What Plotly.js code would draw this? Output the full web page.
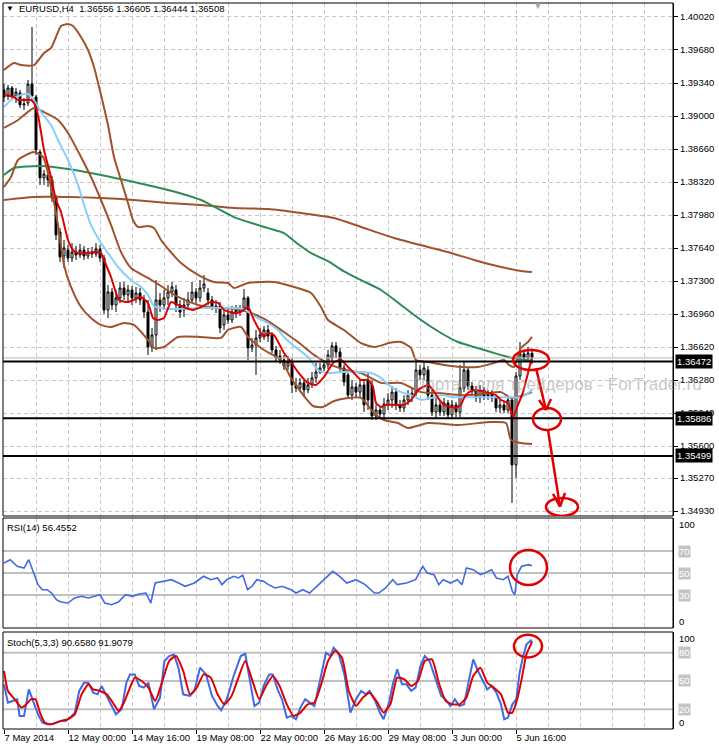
<!DOCTYPE html>
<html>
<head>
<meta charset="utf-8">
<script src="https://cdn.plot.ly/plotly-3.0.1.min.js"></script>
<style>html,body{margin:0;padding:0;background:#fff;}#chart{width:719px;height:750px;}</style>
</head>
<body>
<div id="chart"></div>
<script>
// ---------- DATA ----------
const symbolTitle = "EURUSD,H4  1.36556 1.36605 1.36444 1.36508";
const rsiTitle = "RSI(14) 56.4552";
const stochTitle = "Stoch(5,3,3) 90.6580 91.9079";
const watermark = "Портал для трейдеров - ForTrader.ru";

const timeTickBars = [0,16,32,48,64,80,96,112,128];
const timeTickLabels = ["7 May 2014","12 May 00:00","14 May 16:00","19 May 08:00","22 May 00:00","26 May 16:00","29 May 08:00","3 Jun 00:00","5 Jun 16:00"];
const priceTicks = ["1.40020","1.39680","1.39340","1.39000","1.38660","1.38320","1.37980","1.37640","1.37300","1.36960","1.36620","1.36280","1.35940","1.35600","1.35270","1.34930"];
const levelPrices = [1.36472, 1.35886, 1.35499];
const bidPrice = 1.36508;

const open = [1.39268,1.39217,1.39289,1.39206,1.39237,1.39114,1.39134,1.39330,1.39196,1.38629,
1.38362,1.38393,1.38341,1.38156,1.37805,1.37558,1.37620,1.37538,1.37599,1.37569,
1.37620,1.37558,1.37599,1.37579,1.37630,1.37538,1.37002,1.37187,1.37054,1.37126,
1.37228,1.37157,1.37208,1.37126,1.37177,1.37105,1.36981,1.36621,1.36745,1.37105,
1.37054,1.37126,1.37187,1.37208,1.37054,1.37002,1.37054,1.37105,1.37187,1.37126,
1.37228,1.37177,1.37105,1.37043,1.37043,1.36848,1.36951,1.36899,1.36981,1.37002,
1.37023,1.37126,1.36611,1.36642,1.36714,1.36745,1.36796,1.36745,1.36590,1.36528,
1.36487,1.36425,1.36466,1.36230,1.36198,1.36251,1.36178,1.36230,1.36302,1.36363,
1.36405,1.36436,1.36508,1.36632,1.36569,1.36405,1.36333,1.36125,1.36209,1.36156,
1.36230,1.36281,1.36230,1.35910,1.35972,1.35931,1.36034,1.36075,1.36156,1.36024,
1.35993,1.36075,1.36125,1.36145,1.36384,1.36333,1.36384,1.36125,1.35951,1.36024,
1.35951,1.36044,1.35921,1.36024,1.35951,1.36198,1.36384,1.36219,1.36178,1.36096,
1.36178,1.36114,1.36135,1.36096,1.35993,1.36024,1.35972,1.36075,1.35406,1.36322,
1.36549,1.36508,1.36556];
const close = [1.39196,1.39289,1.39206,1.39247,1.39114,1.39124,1.39330,1.39206,1.38650,1.38362,
1.38403,1.38341,1.38156,1.37775,1.37548,1.37641,1.37538,1.37599,1.37569,1.37620,
1.37558,1.37599,1.37579,1.37630,1.37538,1.37002,1.37187,1.37054,1.37126,1.37228,
1.37157,1.37208,1.37126,1.37177,1.37105,1.36981,1.36621,1.36745,1.37105,1.37054,
1.37126,1.37187,1.37239,1.37054,1.36981,1.37054,1.37105,1.37187,1.37126,1.37228,
1.37270,1.37105,1.37043,1.37023,1.36817,1.36951,1.36899,1.36981,1.37002,1.36981,
1.37126,1.36611,1.36642,1.36714,1.36745,1.36796,1.36734,1.36590,1.36508,1.36487,
1.36425,1.36466,1.36230,1.36198,1.36251,1.36178,1.36230,1.36302,1.36363,1.36405,
1.36436,1.36539,1.36632,1.36569,1.36405,1.36261,1.36125,1.36209,1.36156,1.36230,
1.36024,1.36075,1.35910,1.35972,1.35931,1.36034,1.36075,1.36156,1.36024,1.35993,
1.36075,1.36125,1.36145,1.36384,1.36333,1.36405,1.36125,1.35951,1.36024,1.35951,
1.36044,1.35921,1.36024,1.35951,1.36198,1.36384,1.36219,1.36178,1.36096,1.36178,
1.36114,1.36135,1.36096,1.35993,1.36024,1.35972,1.36075,1.35406,1.36322,1.36549,
1.36508,1.36559,1.36508];
const high = [1.39330,1.39320,1.39309,1.39289,1.39268,1.39186,1.39371,1.39917,1.39217,1.38650,
1.38444,1.38423,1.38382,1.38186,1.37847,1.37723,1.37672,1.37692,1.37661,1.37682,
1.37661,1.37641,1.37651,1.37692,1.37672,1.37569,1.37260,1.37228,1.37208,1.37290,
1.37290,1.37260,1.37249,1.37239,1.37228,1.37157,1.37105,1.36817,1.37311,1.37177,
1.37208,1.37260,1.37290,1.37260,1.37105,1.37126,1.37187,1.37290,1.37228,1.37311,
1.37363,1.37228,1.37146,1.37105,1.37084,1.37002,1.37023,1.37043,1.37054,1.37054,
1.37218,1.37146,1.36714,1.36796,1.36817,1.36837,1.36848,1.36775,1.36632,1.36590,
1.36539,1.36528,1.36508,1.36302,1.36302,1.36281,1.36302,1.36363,1.36456,1.36456,
1.36487,1.36590,1.36672,1.36672,1.36611,1.36436,1.36363,1.36281,1.36251,1.36281,
1.36281,1.36363,1.36281,1.36024,1.36013,1.36096,1.36145,1.36219,1.36198,1.36075,
1.36125,1.36178,1.36198,1.36487,1.36436,1.36466,1.36425,1.36178,1.36096,1.36075,
1.36096,1.36075,1.36075,1.36054,1.36436,1.36466,1.36415,1.36261,1.36219,1.36230,
1.36209,1.36178,1.36178,1.36125,1.36075,1.36054,1.36114,1.36104,1.36363,1.36672,
1.36590,1.36621,1.36605];
const low = [1.39144,1.39165,1.39165,1.39134,1.39083,1.39062,1.39103,1.39165,1.38599,1.38290,
1.38290,1.38269,1.38114,1.37723,1.37496,1.37435,1.37496,1.37496,1.37517,1.37538,
1.37517,1.37527,1.37538,1.37548,1.37496,1.36961,1.36920,1.37002,1.36981,1.37074,
1.37105,1.37084,1.37054,1.37074,1.37054,1.36920,1.36539,1.36569,1.36590,1.36981,
1.37002,1.37054,1.37136,1.36981,1.36920,1.36930,1.37002,1.37074,1.37054,1.37084,
1.37187,1.37054,1.37002,1.36971,1.36765,1.36796,1.36858,1.36868,1.36920,1.36940,
1.36981,1.36487,1.36569,1.36333,1.36672,1.36693,1.36672,1.36559,1.36466,1.36446,
1.36384,1.36384,1.36145,1.36156,1.36156,1.36104,1.36145,1.36198,1.36251,1.36343,
1.36374,1.36395,1.36466,1.36508,1.36363,1.36219,1.36096,1.36075,1.36104,1.36096,
1.35951,1.35972,1.35869,1.35869,1.35879,1.35890,1.35972,1.35993,1.35972,1.35951,
1.35951,1.36024,1.36054,1.36114,1.36281,1.36281,1.36075,1.35910,1.35890,1.35910,
1.35910,1.35890,1.35890,1.35900,1.35900,1.36156,1.36178,1.36135,1.36054,1.36044,
1.36075,1.36075,1.36054,1.35951,1.35941,1.35941,1.35941,1.35014,1.35272,1.36281,
1.36466,1.36487,1.36444];

// moving averages / bands (bar position, price)
const fastMaX = [0,2.5,3.5,5,6.75,7.5,8.5,10,11.75,13,14.25,16,17.25,18.5,21,22.5,24.25,25,26.75,28.75,31,33.5,34.25,36,37.25,38.5,40,41.75,43.5,45.5,47.25,49.25,51.75,53.5,55,57.5,59.25,61,62.5,65,66,67.5,70,71.75,73.5,76,78,80,82.5,84.25,86,87.5,89.25,91,92.25,93,94.25,95.5,98.5,100,101.75,103.5,104.75,106,107.25,108.5,110,111.75,113,114.25,115,116.25,118,120.5,123,124.25,126,127.25,128.5,129.75,131,132];
const fastMaY = [1.39217,1.39196,1.39165,1.39165,1.39165,1.39134,1.39011,1.38650,1.38372,1.38135,1.38011,1.37723,1.37620,1.37589,1.37589,1.37599,1.37589,1.37517,1.37342,1.37105,1.37084,1.37126,1.37136,1.37074,1.36920,1.36899,1.36920,1.37084,1.37054,1.37023,1.37002,1.37033,1.37084,1.37074,1.37002,1.36971,1.36981,1.37033,1.36899,1.36724,1.36765,1.36745,1.36559,1.36466,1.36363,1.36251,1.36230,1.36312,1.36466,1.36487,1.36415,1.36353,1.36281,1.36281,1.36209,1.36044,1.36003,1.36024,1.36024,1.36024,1.36075,1.36178,1.36209,1.36230,1.36178,1.36096,1.36024,1.36003,1.35993,1.36024,1.36096,1.36156,1.36178,1.36156,1.36125,1.36075,1.36044,1.35900,1.36024,1.36156,1.36353,1.36518];
const midMaX = [0,1.75,4.25,6,7.5,9.25,11.75,13.5,16,18.5,20,21.75,24.25,26,28.5,31.75,34.25,36,37.5,41,49.25,57.5,60,62.5,66,68.5,70,72.5,76,78.5,81,84.25,89.25,91.75,94.25,96.75,99.25,101.75,104.25,106.75,109.25,112.5,119.25,126,129.25,131,132];
const midMaY = [1.39093,1.39165,1.39217,1.39227,1.39165,1.39041,1.38908,1.38753,1.38547,1.38290,1.38084,1.37878,1.37692,1.37589,1.37445,1.37311,1.37239,1.37157,1.37043,1.37012,1.37023,1.37023,1.37012,1.36940,1.36868,1.36796,1.36724,1.36632,1.36518,1.36384,1.36353,1.36363,1.36363,1.36353,1.36302,1.36209,1.36156,1.36125,1.36075,1.36096,1.36125,1.36104,1.36104,1.36104,1.36104,1.36145,1.36178];
const bandUpX = [0,2.5,4.25,7.5,10,11.75,13,14.25,16,17.25,19.25,21,22.5,24.25,26,27.5,29.25,31,32.25,33.5,36,37.5,39.25,41.25,44.25,48.5,52.5,56,57.5,61,67.5,72.5,76.75,79.25,81,85,89.25,92.5,96.75,99.25,101.75,103,106,110,114.25,118.5,122.5,125,126.25,127.5,129.25,131,132];
const bandUpY = [1.39474,1.39546,1.39525,1.39525,1.39649,1.39701,1.39814,1.39927,1.39948,1.39927,1.39814,1.39680,1.39505,1.39217,1.38907,1.38578,1.38341,1.38104,1.37929,1.37857,1.37867,1.37847,1.37723,1.37620,1.37486,1.37363,1.37290,1.37280,1.37228,1.37280,1.37290,1.37239,1.37177,1.37033,1.36899,1.36796,1.36660,1.36621,1.36666,1.36672,1.36611,1.36487,1.36466,1.36436,1.36415,1.36415,1.36456,1.36487,1.36436,1.36415,1.36611,1.36672,1.36724];
const bandMidX = [0,3.5,7.5,10,13.5,16,19.25,21.75,24.25,26.75,29.25,31.75,36,40,43.5,48.5,53.5,58,61.75,65.5,69.25,73.5,77.5,81.75,85.5,89.25,94.25,99.25,104.25,109.25,114.25,119.25,124.25,126.75,129.25,132];
const bandMidY = [1.38877,1.38959,1.39083,1.39041,1.38959,1.38825,1.38578,1.38372,1.38135,1.37878,1.37599,1.37435,1.37332,1.37228,1.37136,1.37054,1.37023,1.37012,1.36971,1.36899,1.36796,1.36672,1.36539,1.36436,1.36384,1.36353,1.36251,1.36251,1.36156,1.36145,1.36125,1.36135,1.36156,1.36096,1.36116,1.36156];
const bandLowX = [0,1.75,3.5,7.5,9.75,11.75,13.5,15,16.75,19.25,21.75,24.25,26.75,30,32.5,36,37.5,40,43.5,49.25,54.25,56,59.25,61,65,69.25,71.75,74.25,77.25,79.75,82.5,86,89.25,92.5,95,98.5,101,106,113.5,121.75,125.5,126.75,129.25,132];
const bandLowY = [1.38269,1.38372,1.38547,1.38629,1.38578,1.38269,1.37878,1.37466,1.37239,1.37033,1.36920,1.36848,1.36827,1.36868,1.36848,1.36693,1.36611,1.36621,1.36724,1.36724,1.36714,1.36796,1.36827,1.36724,1.36590,1.36487,1.36302,1.36156,1.36013,1.36003,1.36065,1.36096,1.36096,1.35941,1.35869,1.35838,1.35787,1.35838,1.35818,1.35848,1.35838,1.35663,1.35632,1.35622];
const greenMaX = [0,2.5,9.25,16,24.25,32.5,41,49.25,57.5,66,70,73.5,76.75,81,85,89.25,94.25,99.25,104.25,109.25,113.5,117.5,121.75,126,132];
const greenMaY = [1.38393,1.38465,1.38485,1.38454,1.38393,1.38320,1.38238,1.38135,1.37959,1.37845,1.37794,1.37681,1.37588,1.37505,1.37400,1.37310,1.37208,1.37054,1.36899,1.36765,1.36672,1.36621,1.36569,1.36518,1.36476];
const slowMaX = [0,7.5,16,24.25,32.5,41,49.25,57.5,66,74.25,82.5,89.25,97.5,106,111.75,117.5,124.25,129.25,132];
const slowMaY = [1.38135,1.38166,1.38166,1.38156,1.38135,1.38104,1.38084,1.38053,1.38042,1.38001,1.37950,1.37857,1.37744,1.37651,1.37589,1.37517,1.37445,1.37404,1.37394];

const rsiX = [0,1.55,3.3,5.0,6.2,7.3,8.5,9.6,10.8,11.9,13.1,14.2,15.95,17.7,19.4,21.1,22.3,24.0,25.2,26.9,28.6,30.4,32.1,33.8,35.5,36.7,37.8,39.6,41.9,43.6,45.3,47.6,49.9,51.7,53.4,54.5,55.7,57.4,58.6,59.7,60.9,62.0,63.2,64.9,66.1,67.8,69.5,71.8,73.0,74.7,76.4,78.2,79.9,82.2,83.9,85.7,88.0,90.3,92.6,93.7,95.4,97.2,98.3,100.6,102.9,104.7,105.8,107.5,108.7,109.8,111.6,113.3,114.5,115.6,117.3,119.1,120.2,121.9,123.1,124.8,126.0,127.1,127.7,128.3,129.4,131.2,132];
const rsiY = [59.1,62.1,56.1,54.5,62.1,51.5,39.4,34.8,34.8,31.8,25.8,23.6,22.7,27.3,28.8,27.3,28.8,30.3,22.7,21.2,23.6,30.3,28.8,30.9,31.8,22.7,40.9,42.4,43.9,40.9,37.9,40.9,47,43.9,45.5,39.4,43.9,47,45.5,47.9,34.8,37.9,43.9,42.4,39.4,36.4,37.9,34.8,31.8,34.8,31.8,37.9,43.9,51.5,47,40.9,43.9,39.4,31.8,31.8,36.4,43.9,39.4,40.9,43.9,56.1,50,48.5,39.4,43.9,40.9,43.9,39.4,54.5,53,48.5,50,53,45.5,43.9,47,33.3,30.3,48.5,56.1,57.6,56.5];
const rsiLevels = [70,50,30];

const stochKX = [0,0.98,2.1,3.3,3.9,5.0,6.2,7.3,8.5,9.6,10.8,11.9,13.1,14.2,15.4,16.5,17.7,18.8,20.0,21.1,22.3,23.4,24.4,25.7,26.9,28.0,29.4,30.6,31.5,32.7,33.8,34.96,36.1,37.5,39.0,40.1,41.3,42.5,43.6,44.8,46.5,47.6,49.0,50.5,52.0,53.4,54.3,55.7,57.4,59.2,60.3,61.5,62.6,63.8,64.9,66.3,67.2,68.4,69.5,70.7,71.8,73.0,74.1,75.3,76.4,77.6,78.7,80.5,81.6,82.4,83.6,85.1,86.6,88.0,89.3,90.5,91.4,92.8,93.95,94.9,96.25,97.2,98.3,99.5,100.6,101.8,102.9,104.1,105.2,106.4,107.5,109.3,110.4,111.6,112.7,113.9,115.0,116.2,117.3,118.5,119.6,120.8,121.9,123.1,124.25,125.05,126.0,127.1,128.05,128.9,129.7,130.6,131.7,132];
const stochKY = [46.4,27,28.8,30.5,12.9,12.9,41.1,28.8,14.6,5.8,4,4,5.8,7.6,7.6,11.1,16.4,39.4,48.2,48.2,37.6,35.8,44.7,34.1,23.5,14.6,19.9,48.2,57,57,44.7,42.9,48.2,19.9,32.3,71.2,76.5,78.2,64.1,35.8,34.1,39.4,64.1,57,34.1,23.5,18.9,30.5,55.3,76.5,78.9,51.7,23.5,27,44.7,57,57,41.1,30.5,11.1,12.9,9.3,21.7,30.5,27,23.5,44.7,80,76.5,85.3,80,57,16.4,30.5,39.4,35.8,39.4,28.8,16.4,9.3,27,46.4,62.3,46.4,46.4,39.4,42.9,65.9,76.5,71.2,57,34.1,30.5,23.5,30.5,23.5,25.2,51.7,72.9,60.6,51.7,41.1,44.7,37.6,25.2,9.3,11.1,25.2,30.5,58.8,74.7,88.8,93.1,90.7];
const stochDX = [0,0.98,2.7,4.4,5.6,6.7,7.9,9.0,10.2,11.35,12.5,14.2,15.95,17.7,19.4,21.1,22.3,24.0,25.7,27.5,28.6,29.8,31.5,32.7,34.4,36.1,37.8,39.6,41.3,43.0,44.8,46.5,48.2,49.9,51.7,53.4,55.1,56.9,58.6,60.3,62.0,63.8,65.5,67.2,68.9,70.7,72.4,74.1,75.9,77.6,79.3,81.0,82.8,84.5,86.2,88.0,89.7,91.4,93.1,94.9,96.6,98.3,100.1,101.8,103.5,105.2,107.0,108.7,110.4,112.1,113.9,115.6,117.3,119.1,120.8,122.5,124.25,126.0,127.1,128.3,129.4,130.6,131.7,132];
const stochDY = [60.6,39.4,30.5,21.7,25.2,30.5,30.5,16.4,5.8,4,4.7,7.6,9.3,14.6,35.8,46.4,41.1,39.4,35.8,25.2,18.2,25.2,42.9,53.5,50,42.9,28.8,50,71.2,76.5,60.6,35.8,42.9,57,53.5,35.8,25.2,34.1,53.5,71.2,51.7,30.5,44.7,55.3,44.7,25.2,12.9,16.4,25.2,27,46.4,71.2,81.8,74.7,39.4,23.5,32.3,37.6,28.8,16.4,25.2,53.5,51.7,44.7,50,71.2,72.9,48.2,28.8,25.2,25.2,32.3,55.3,64.1,48.2,42.9,35.8,16.4,16.4,30.5,51.7,78.2,88.8,91.9];
const stochLevels = [80,50,20];

// hand-drawn marks (bar position, value)
const priceEllipses = [[127.25,136.25,1.36384,1.36590],[132.25,139.25,1.35766,1.35993],[135.5,143.5,1.34880,1.35066]];
const rsiEllipse = [126.5,135.75,39,71];
const stochEllipse = [127.5,134.5,75,99];
const arrowSegments = [
  [133,1.36405,135.5,1.35972],[133.75,1.36075,135.5,1.35972],[136.75,1.36085,135.5,1.35972],
  [136,1.35766,139,1.34977],[137.25,1.35107,139,1.34977],[140.25,1.35117,139,1.34977]
];

// ---------- LAYOUT HELPERS ----------
const W = 719, H = 750, ML = 3, MR = 46, MT = 3, MB = 20;
const PW = W - ML - MR, PH = H - MT - MB;
const xp = px => (px - ML) / PW;
const yp = py => (H - MB - py) / PH;
const domPrice = [yp(516), yp(MT)];
const domRsi = [yp(628), yp(518)];
const domSto = [yp(729), yp(632)];

const bars = open.map((_, i) => i);
const FONT = "Tahoma, 'Liberation Sans', Arial, sans-serif";
const brown = '#a0522d';

const traces = [
  {type:'candlestick', x:bars, open, high, low, close, xaxis:'x', yaxis:'y',
   increasing:{line:{color:'#000',width:1}, fillcolor:'#ffffff'},
   decreasing:{line:{color:'#000',width:1}, fillcolor:'#000000'},
   whiskerwidth:0, hoverinfo:'skip'},
  {type:'scatter', mode:'lines', x:slowMaX, y:slowMaY, line:{color:brown,width:2,shape:'spline',smoothing:0.6}, yaxis:'y'},
  {type:'scatter', mode:'lines', x:greenMaX, y:greenMaY, line:{color:'#2e8b57',width:2,shape:'spline',smoothing:0.6}, yaxis:'y'},
  {type:'scatter', mode:'lines', x:bandUpX, y:bandUpY, line:{color:brown,width:2,shape:'spline',smoothing:0.6}, yaxis:'y'},
  {type:'scatter', mode:'lines', x:bandMidX, y:bandMidY, line:{color:brown,width:2,shape:'spline',smoothing:0.6}, yaxis:'y'},
  {type:'scatter', mode:'lines', x:bandLowX, y:bandLowY, line:{color:brown,width:2,shape:'spline',smoothing:0.6}, yaxis:'y'},
  {type:'scatter', mode:'lines', x:midMaX, y:midMaY, line:{color:'#87cefa',width:2,shape:'spline',smoothing:0.6}, yaxis:'y'},
  {type:'scatter', mode:'lines', x:fastMaX, y:fastMaY, line:{color:'#e00000',width:2,shape:'spline',smoothing:0.5}, yaxis:'y'},
  {type:'scatter', mode:'lines', x:rsiX, y:rsiY, line:{color:'#4169e1',width:1.6}, yaxis:'y2'},
  {type:'scatter', mode:'lines', x:stochKX, y:stochKY, line:{color:'#4169e1',width:2}, yaxis:'y3'},
  {type:'scatter', mode:'lines', x:stochDX, y:stochDY, line:{color:'#e00000',width:2,shape:'spline',smoothing:0.5}, yaxis:'y3'}
];

const shapes = [];
rsiLevels.forEach(v => shapes.push({type:'line', xref:'paper', x0:0, x1:1, yref:'y2', y0:v, y1:v, line:{color:'#c0c0c0',width:2}, layer:'below'}));
stochLevels.forEach(v => shapes.push({type:'line', xref:'paper', x0:0, x1:1, yref:'y3', y0:v, y1:v, line:{color:'#c0c0c0',width:2}, layer:'below'}));
shapes.push({type:'line', xref:'paper', x0:0, x1:1, yref:'y', y0:bidPrice, y1:bidPrice, line:{color:'#b8b8b8',width:1}});
levelPrices.forEach(v => shapes.push({type:'line', xref:'paper', x0:0, x1:1, yref:'y', y0:v, y1:v, line:{color:'#000',width:2}}));
[domPrice, domRsi, domSto].forEach(d => shapes.push({type:'rect', xref:'paper', yref:'paper', x0:0, x1:1, y0:d[0], y1:d[1], line:{color:'#000',width:1}}));
priceEllipses.forEach(e => shapes.push({type:'circle', xref:'x', yref:'y', x0:e[0], x1:e[1], y0:e[2], y1:e[3], line:{color:'#e00000',width:2.5}}));
shapes.push({type:'circle', xref:'x', yref:'y2', x0:rsiEllipse[0], x1:rsiEllipse[1], y0:rsiEllipse[2], y1:rsiEllipse[3], line:{color:'#e00000',width:2.5}});
shapes.push({type:'circle', xref:'x', yref:'y3', x0:stochEllipse[0], x1:stochEllipse[1], y0:stochEllipse[2], y1:stochEllipse[3], line:{color:'#e00000',width:2.5}});
arrowSegments.forEach(s => shapes.push({type:'line', xref:'x', yref:'y', x0:s[0], y0:s[1], x1:s[2], y1:s[3], line:{color:'#e00000',width:2.5}}));

const annotations = [];
annotations.push({xref:'paper', yref:'paper', x:xp(4), y:yp(9), xanchor:'left', yanchor:'middle', text:'▼', showarrow:false, font:{family:FONT,size:8,color:'#000'}});
annotations.push({xref:'paper', yref:'paper', x:xp(17), y:yp(9), xanchor:'left', yanchor:'middle', text:symbolTitle, showarrow:false, font:{family:FONT,size:9.5,color:'#000'}});
annotations.push({xref:'paper', yref:'paper', x:xp(538), y:yp(5), xanchor:'center', yanchor:'middle', text:'▼', showarrow:false, font:{family:FONT,size:10,color:'#a8a8a8'}});
annotations.push({xref:'paper', yref:'paper', x:xp(5), y:yp(527), xanchor:'left', yanchor:'middle', text:rsiTitle, showarrow:false, font:{family:FONT,size:9.5,color:'#000'}});
annotations.push({xref:'paper', yref:'paper', x:xp(5), y:yp(642), xanchor:'left', yanchor:'middle', text:stochTitle, showarrow:false, font:{family:FONT,size:9.5,color:'#000'}});
annotations.push({xref:'paper', yref:'paper', x:xp(557), y:yp(385), xanchor:'center', yanchor:'middle', text:watermark, showarrow:false, font:{family:FONT,size:17,color:'rgba(150,150,150,0.55)'}});
levelPrices.forEach(v => annotations.push({xref:'paper', yref:'y', x:1, y:v, xanchor:'left', yanchor:'middle', xshift:2, text:v.toFixed(5), showarrow:false, bgcolor:'#000', borderpad:1, font:{family:FONT,size:9.5,color:'#fff'}}));
const oscLabel = (yref, v, anchor, boxed) => ({xref:'paper', yref, x:1, y:v, xanchor:'left', yanchor:anchor, xshift:5, text:String(Math.round(v)), showarrow:false,
  bgcolor: boxed ? '#c4c4c4' : 'rgba(0,0,0,0)', borderpad:0, font:{family:FONT,size:9.5,color: boxed ? '#fff' : '#000'}});
annotations.push(Object.assign(oscLabel('y2',100,'top',false),{text:'100'}));
rsiLevels.forEach(v => annotations.push(oscLabel('y2',v,'middle',true)));
annotations.push(Object.assign(oscLabel('y2',0,'bottom',false),{text:'0'}));
annotations.push(Object.assign(oscLabel('y3',102,'top',false),{text:'100'}));
stochLevels.forEach(v => annotations.push(oscLabel('y3',v,'middle',true)));
annotations.push(Object.assign(oscLabel('y3',-1,'bottom',false),{text:'0'}));

const gridDash = '4px,3px';
const layout = {
  width:W, height:H, margin:{l:ML, r:MR, t:MT, b:MB},
  paper_bgcolor:'#fff', plot_bgcolor:'#fff', showlegend:false,
  font:{family:FONT, size:9.5, color:'#000'},
  xaxis:{domain:[0,1], range:[-0.25,167.25], anchor:'y3', tickmode:'array', tickvals:timeTickBars, ticktext:timeTickLabels,
    ticks:'outside', ticklen:4, tickcolor:'#000', ticklabelposition:'outside right', tickangle:0, automargin:false,
    tickfont:{family:FONT,size:9.5},
    showgrid:true, gridcolor:'#c8c8c8', griddash:gridDash, gridwidth:1,
    minor:{tickmode:'linear', tick0:0, dtick:8, showgrid:true, gridcolor:'#c8c8c8', griddash:gridDash, ticks:''},
    zeroline:false, showline:false, rangeslider:{visible:false}, fixedrange:true},
  yaxis:{domain:domPrice, range:[1.34880,1.40164], side:'right', anchor:'x', tickmode:'array', tickvals:priceTicks.map(Number), ticktext:priceTicks,
    ticks:'outside', ticklen:4, tickcolor:'#000', showgrid:true, gridcolor:'#c8c8c8', griddash:gridDash, showline:true, linecolor:'#000',
    zeroline:false, tickfont:{family:FONT,size:9.5}, fixedrange:true, automargin:false},
  yaxis2:{domain:domRsi, range:[0,100], side:'right', anchor:'x', showgrid:false, showticklabels:false, ticks:'', showline:true, linecolor:'#000', zeroline:false, fixedrange:true},
  yaxis3:{domain:domSto, range:[-1,102], side:'right', anchor:'x', showgrid:false, showticklabels:false, ticks:'', showline:true, linecolor:'#000', zeroline:false, fixedrange:true},
  shapes, annotations
};

Plotly.newPlot('chart', traces, layout, {displayModeBar:false, staticPlot:true});
</script>
</body>
</html>
